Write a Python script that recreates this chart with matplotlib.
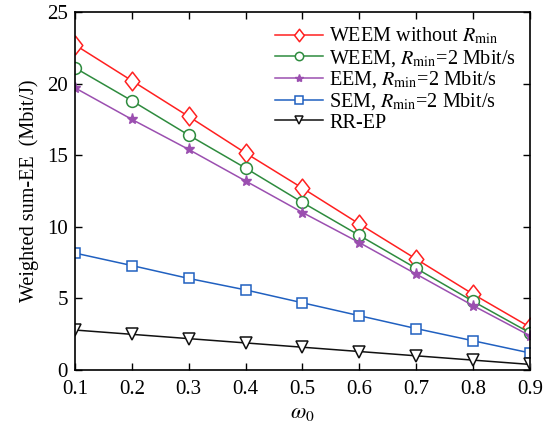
import matplotlib
matplotlib.use("Agg")
import matplotlib.pyplot as plt
from matplotlib.path import Path

plt.rcParams['font.family'] = ['Liberation Serif', 'DejaVu Serif']
plt.rcParams['mathtext.fontset'] = 'stix'

omega = [0.1, 0.2, 0.3, 0.4, 0.5, 0.6, 0.7, 0.8, 0.9]
weem_no_rmin = [22.7, 20.2, 17.7, 15.15, 12.7, 10.2, 7.75, 5.3, 3.0]
weem_rmin = [21.1, 18.8, 16.4, 14.1, 11.7, 9.4, 7.1, 4.8, 2.6]
eem_rmin = [19.7, 17.5, 15.4, 13.2, 11.0, 8.9, 6.7, 4.5, 2.4]
sem_rmin = [8.17, 7.3, 6.4, 5.6, 4.7, 3.8, 2.9, 2.05, 1.2]
rr_ep = [2.8, 2.5, 2.2, 1.9, 1.6, 1.3, 1.0, 0.7, 0.4]

labels = [r'WEEM without $R_{\mathrm{min}}$',
          r'WEEM, $R_{\mathrm{min}}$=2 Mbit/s',
          r'EEM, $R_{\mathrm{min}}$=2 Mbit/s',
          r'SEM, $R_{\mathrm{min}}$=2 Mbit/s',
          'RR-EP']

diamond = Path([(0, 1), (0.78, 0), (0, -1), (-0.78, 0), (0, 1)],
               [Path.MOVETO, Path.LINETO, Path.LINETO, Path.LINETO, Path.CLOSEPOLY])

fig = plt.figure(figsize=(5.55, 4.24), dpi=100)
ax = fig.add_axes([0.135, 0.127, 0.82, 0.845])

ax.plot(omega, weem_no_rmin, color='#ff2020', marker=diamond, markersize=13.5, mfc='white', mec='#ff2020', mew=1.1, lw=1.1, label=labels[0])
ax.plot(omega, weem_rmin, color='#2e8b3e', marker='o', markersize=8.5, mfc='white', mec='#2e8b3e', mew=1.1, lw=1.1, label=labels[1])
ax.plot(omega, eem_rmin, color='#9b4fb0', marker='*', markersize=8, mfc='#9b4fb0', mec='#9b4fb0', lw=1.1, label=labels[2])
ax.plot(omega, sem_rmin, color='#2060c0', marker='s', markersize=6.5, mfc='white', mec='#2060c0', mew=1.1, lw=1.1, label=labels[3])
ax.plot(omega, rr_ep, color='#111111', marker='v', markersize=9, mfc='white', mec='#111111', mew=1.1, lw=1.1, label=labels[4])

ax.set_xlim(0.1, 0.9)
ax.set_ylim(0, 25)
ax.set_xticks(omega)
ax.set_xticklabels(['0.1', '0.2', '0.3', '0.4', '0.5', '0.6', '0.7', '0.8', '0.9'])
ax.set_yticks([0, 5, 10, 15, 20, 25])
ax.tick_params(direction='in', top=True, right=True, labelsize=15, length=5, width=1)
ax.tick_params(axis='x', pad=7)
ax.tick_params(axis='y', pad=5)
for s in ax.spines.values():
    s.set_linewidth(1.2)
ax.set_xlabel(r'$\omega_0$', fontsize=16, labelpad=4)
ax.set_ylabel('Weighted sum-EE  (Mbit/J)', fontsize=14.5, labelpad=6)

leg = ax.legend(loc='upper right', frameon=False, fontsize=14.5, handlelength=2.4,
                labelspacing=0.05, borderaxespad=0.3, handletextpad=0.3,
                bbox_to_anchor=(1.0, 1.0))
for h in leg.legend_handles:
    h.set_markersize(6)
leg.legend_handles[0].set_markersize(9)

fig.savefig('out.png', dpi=100)
